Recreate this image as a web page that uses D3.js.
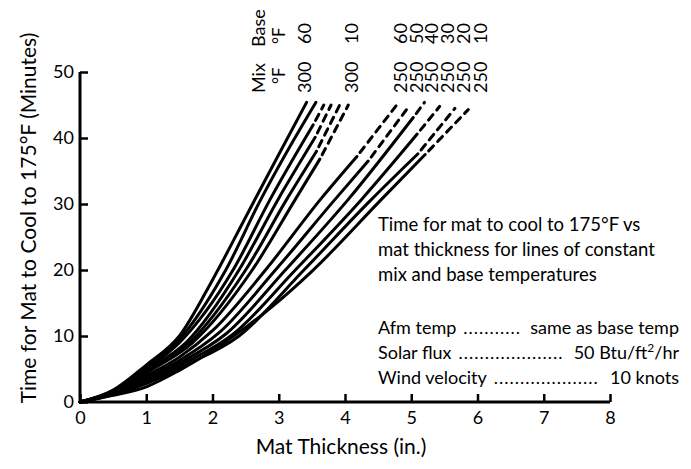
<!DOCTYPE html>
<html><head><meta charset="utf-8">
<script src="https://cdn.jsdelivr.net/npm/d3@7"></script>
<style>
body{margin:0;background:#fff}
svg{display:block}
text{font-family:Lato,"Open Sans",sans-serif;fill:#000}
</style>
</head><body>
<svg id="c" width="691" height="469"></svg>
<script>
// ---- data ----
const xTicks = [0,1,2,3,4,5,6,7,8];
const yTicks = [0,10,20,30,40,50];
const mixTemps  = [300,300,300,300,300,300,250,250,250,250,250,250];
const baseTemps = [60,50,40,30,20,10,60,50,40,30,20,10];
// solid portions [thickness in., minutes]
const curveA60 = [[0,0],[0.5,1.8],[1,5.6],[1.5,10],[2,18.5],[2.5,28],[3,37.5],[3.42,45.4]];
const curveA50 = [[0,0],[0.5,1.7],[1,5.3],[1.5,9.5],[2.2,20],[2.73,30.7],[3.1,37.5],[3.56,45.4]];
const curveA40 = [[0,0],[0.5,1.6],[1,5.0],[1.5,9],[2.31,20],[2.87,30.7],[3.52,42]];
const curveA30 = [[0,0],[0.5,1.5],[1,4.8],[1.6,9],[2.4,20],[2.99,30.7],[3.55,40.1]];
const curveA20 = [[0,0],[0.5,1.5],[1,4.6],[1.6,8.5],[2.5,20],[3.12,30.7],[3.57,38]];
const curveA10 = [[0,0],[0.5,1.4],[1,4.4],[1.7,9],[2.6,20],[3.25,30.7],[3.62,36.8]];
const curveB60 = [[0,0],[0.5,1.5],[1,4.0],[1.5,6.8],[2,10.8],[2.8,20],[3.63,30.7],[4.18,37.2]];
const curveB50 = [[0,0],[0.5,1.4],[1,3.7],[1.5,6.3],[2.1,10.5],[2.95,20],[3.85,30.7],[4.35,36.5]];
const curveB40 = [[0,0],[0.5,1.3],[1,3.4],[1.5,5.9],[2.2,10.3],[3.1,20],[4.05,30.7],[5.03,43.1]];
const curveB30 = [[0,0],[0.5,1.2],[1,3.1],[1.6,6],[2.3,10.2],[3.25,20],[4.25,30.7],[5.09,40.6]];
const curveB20 = [[0,0],[0.5,1.1],[1,2.8],[1.6,5.6],[2.4,10],[3.38,20],[4.4,30.7],[5.1,37.6]];
const curveB10 = [[0,0],[0.5,1.0],[1,2.3],[1.5,4.8],[2,7.8],[2.5,11.3],[3,15.3],[3.5,19.8],[4.55,30.7],[5.21,37.5]];
// dashed extensions: end point of each curve (null = none)
const tailEnds = [null,null,[3.68,45],[3.79,45],[3.92,45],[4.05,45],[4.78,45],[4.98,45],[5.2,45.4],[5.43,44.8],[5.66,44.5],[5.86,44.3]];
const specLabels = ["Afm temp","Solar flux","Wind velocity"];
const specValues = ["same as base temp","50 Btu/ft²/hr","10 knots"];
const noteLines = ["Time for mat to cool to 175°F vs","mat thickness for lines of constant","mix and base temperatures"];

const curves = [curveA60,curveA50,curveA40,curveA30,curveA20,curveA10,curveB60,curveB50,curveB40,curveB30,curveB20,curveB10];

// ---- chart ----
const svg = d3.select("#c");
const x = d3.scaleLinear().domain([0,8]).range([80,610]);
const y = d3.scaleLinear().domain([0,50]).range([402,72]);

// axes
const gx = svg.append("g").attr("transform","translate(0,402)")
  .call(d3.axisBottom(x).tickValues(xTicks).tickSize(-8).tickPadding(8).tickFormat(d3.format("d")));
const gy = svg.append("g").attr("transform","translate(80,0)")
  .call(d3.axisLeft(y).tickValues(yTicks).tickSize(-8).tickPadding(6).tickFormat(d3.format("d")));
[gx,gy].forEach(g=>{
  g.select(".domain").attr("stroke","#000").attr("stroke-width",3);
  g.selectAll(".tick line").attr("stroke","#000").attr("stroke-width",2.5);
  g.selectAll(".tick text").attr("font-size",18).attr("font-family","Lato,sans-serif").attr("fill","#000");
});
gx.select(".domain").attr("d","M80,0H610");
gy.select(".domain").attr("d","M0,402V72");
gx.selectAll(".tick text").attr("y",9).attr("dy","0.71em");

// curves
const line = d3.line().x(d=>x(d[0])).y(d=>y(d[1])).curve(d3.curveMonotoneX);
svg.append("g").selectAll("path").data(curves).join("path")
  .attr("d",line).attr("fill","none").attr("stroke","#000").attr("stroke-width",3).attr("stroke-linecap","round");
svg.append("g").selectAll("path").data(curves.map((c,i)=>tailEnds[i]?[c[c.length-1],tailEnds[i]]:null).filter(Boolean)).join("path")
  .attr("d",d3.line().x(d=>x(d[0])).y(d=>y(d[1])))
  .attr("fill","none").attr("stroke","#000").attr("stroke-width",3)
  .attr("stroke-dasharray","7,6").attr("stroke-dashoffset",-5).attr("stroke-linecap","round");

// rotated header labels
function vtext(px,py,t,size){
  svg.append("text").attr("transform",`translate(${px},${py}) rotate(-90)`)
    .attr("font-size",size).text(t);
}
vtext(265,93,"Mix",18); vtext(265,47,"Base",18);
vtext(285,84,"°F",17); vtext(285,44,"°F",17);
const shownCols = [0,5,6,7,8,9,10,11];
const colXs = [311,358,407,423,438,454,470,487];
shownCols.forEach((ci,k)=>{
  vtext(colXs[k],93,String(mixTemps[ci]),18);
  vtext(colXs[k],44,String(baseTemps[ci]),18);
});

// axis titles
svg.append("text").attr("transform","translate(36,218) rotate(-90)")
  .attr("text-anchor","middle").attr("font-size",21).text("Time for Mat to Cool to 175°F (Minutes)");
svg.append("text").attr("x",341).attr("y",454).attr("text-anchor","middle")
  .attr("font-size",21).text("Mat Thickness (in.)");

// note
noteLines.forEach((t,i)=>{
  svg.append("text").attr("x",378).attr("y",231+i*25).attr("font-size",18.5).text(t);
});
// spec lines with leaders
specLabels.forEach((lab,i)=>{
  const yy = 334+i*25;
  const l = svg.append("text").attr("x",378).attr("y",yy).attr("font-size",18).text(lab);
  const v = svg.append("text").attr("x",679).attr("y",yy).attr("font-size",18).attr("text-anchor","end");
  if(specValues[i].includes("²")){
    const parts = specValues[i].split("²");
    v.append("tspan").text(parts[0]);
    v.append("tspan").attr("dy",-7).attr("font-size",12).text("2");
    v.append("tspan").attr("dy",7).text(parts[1]);
  } else v.text(specValues[i]);
  const lEnd = 378 + l.node().getComputedTextLength() + 7;
  const vStart = 679 - v.node().getComputedTextLength() - 6;
  const dots = svg.append("text").attr("x",lEnd).attr("y",yy).attr("font-size",18).attr("letter-spacing",1).text(".");
  const w = dots.node().getComputedTextLength();
  const n = Math.max(1,Math.floor((vStart-lEnd)/w));
  dots.text(".".repeat(n));
});
</script>
</body></html>
